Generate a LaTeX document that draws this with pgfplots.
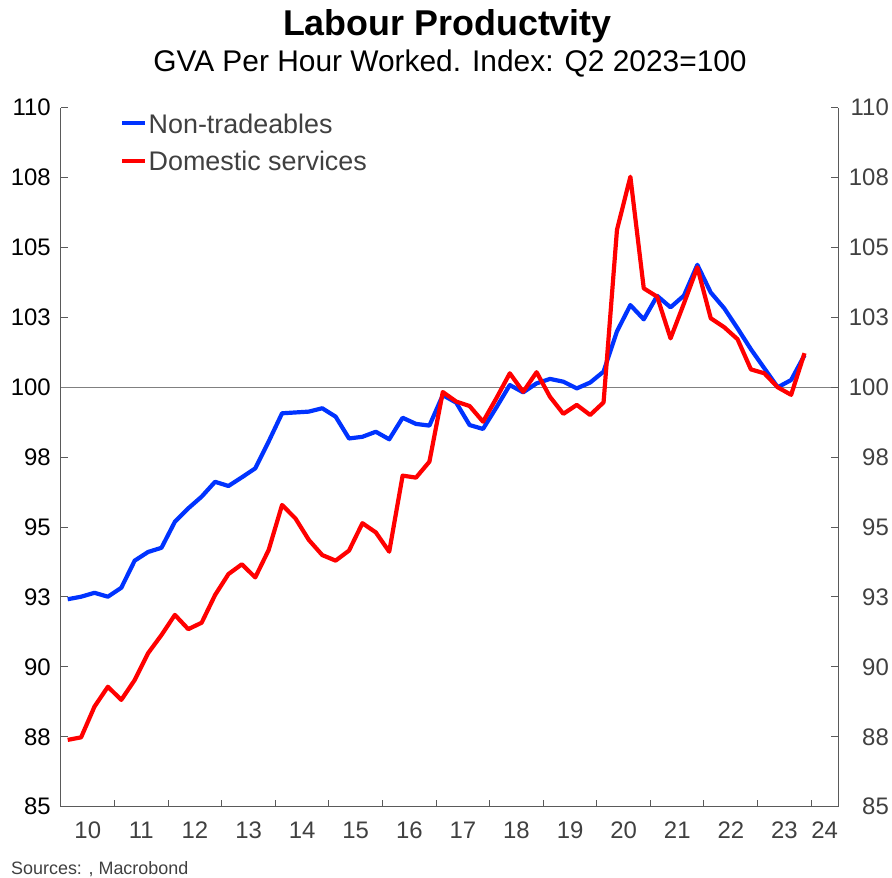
\documentclass[border=0pt]{standalone}
\usepackage{pgfplots}
\pgfplotsset{compat=1.18}
\usepackage{pgfplotstable}
\usepackage{fontspec}
\setmainfont{Liberation Sans}
\definecolor{nblue}{RGB}{0,51,255}
\definecolor{dred}{RGB}{255,0,0}
\definecolor{txtgray}{RGB}{64,64,64}
\definecolor{axgray}{RGB}{90,90,90}

\pgfplotstableread{
x y
2010.125 92.42
2010.375 92.51
2010.625 92.65
2010.875 92.51
2011.125 92.83
2011.375 93.80
2011.625 94.11
2011.875 94.26
2012.125 95.19
2012.375 95.67
2012.625 96.09
2012.875 96.62
2013.125 96.47
2013.375 96.78
2013.625 97.10
2013.875 98.06
2014.125 99.07
2014.375 99.10
2014.625 99.13
2014.875 99.25
2015.125 98.95
2015.375 98.17
2015.625 98.23
2015.875 98.41
2016.125 98.14
2016.375 98.91
2016.625 98.69
2016.875 98.63
2017.125 99.72
2017.375 99.45
2017.625 98.65
2017.875 98.51
2018.125 99.28
2018.375 100.08
2018.625 99.82
2018.875 100.14
2019.125 100.30
2019.375 100.20
2019.625 99.96
2019.875 100.17
2020.125 100.56
2020.375 102.00
2020.625 102.94
2020.875 102.43
2021.125 103.27
2021.375 102.86
2021.625 103.28
2021.875 104.38
2022.125 103.39
2022.375 102.83
2022.625 102.11
2022.875 101.36
2023.125 100.68
2023.375 100.00
2023.625 100.26
2023.875 101.15
}\nontrade

\pgfplotstableread{
x y
2010.125 87.39
2010.375 87.48
2010.625 88.58
2010.875 89.29
2011.125 88.82
2011.375 89.53
2011.625 90.49
2011.875 91.14
2012.125 91.86
2012.375 91.35
2012.625 91.58
2012.875 92.57
2013.125 93.32
2013.375 93.67
2013.625 93.20
2013.875 94.18
2014.125 95.79
2014.375 95.31
2014.625 94.54
2014.875 94.00
2015.125 93.80
2015.375 94.16
2015.625 95.14
2015.875 94.81
2016.125 94.12
2016.375 96.84
2016.625 96.77
2016.875 97.34
2017.125 99.83
2017.375 99.49
2017.625 99.33
2017.875 98.77
2018.125 99.61
2018.375 100.50
2018.625 99.84
2018.875 100.54
2019.125 99.66
2019.375 99.05
2019.625 99.37
2019.875 99.01
2020.125 99.46
2020.375 105.63
2020.625 107.53
2020.875 103.54
2021.125 103.24
2021.375 101.75
2021.625 103.00
2021.875 104.29
2022.125 102.47
2022.375 102.15
2022.625 101.72
2022.875 100.64
2023.125 100.50
2023.375 100.00
2023.625 99.73
2023.875 101.22
}\domserv

\begin{document}
\begin{tikzpicture}[x=1bp,y=1bp]
\path[use as bounding box] (-61,-71.3) rectangle (831,806.7);
\begin{axis}[
  at={(0,0)}, anchor=south west,
  scale only axis, width=777bp, height=699bp,
  xmin=2010, xmax=2024.5, ymin=85, ymax=110,
  axis x line*=bottom, axis y line*=left,
  axis line style={-, draw=axgray, line width=1bp},
  tick align=inside, major tick length=7bp,
  tick style={draw=axgray, line width=1bp},
  xtick={2011,2012,...,2024}, xticklabels={},
  extra x ticks={2010.5,2011.5,2012.5,2013.5,2014.5,2015.5,2016.5,2017.5,2018.5,2019.5,2020.5,2021.5,2022.5,2023.5,2024.25},
  extra x tick labels={10,11,12,13,14,15,16,17,18,19,20,21,22,23,24},
  extra x tick style={major tick length=0pt, tick style={draw=none},
    xticklabel style={anchor=north, inner sep=0pt, yshift=-15bp, text=txtgray, font=\fontsize{24}{28}\selectfont}},
  ytick={85,87.5,...,110},
  yticklabels={85,88,90,93,95,98,100,103,105,108,110},
  yticklabel style={anchor=east, inner sep=0pt, xshift=-10bp, text=black, font=\fontsize{24}{28}\selectfont},
  /pgf/number format/assume math mode=true,
  legend cell align=left,
  legend style={at={(rel axis cs:0.0759,0.9915)}, anchor=north west, draw=none, fill=none,
    inner sep=0pt, row sep=18.4bp, column sep=1.5bp,
    font=\fontsize{27}{30}\selectfont, text=txtgray,
    nodes={inner sep=0pt, text height=19.3bp, text depth=0pt}},
  legend image code/.code={\draw[#1, line width=4bp] (0bp,0bp) -- (23bp,0bp);},
  clip=false,
]
\addplot[gray, line width=1.2bp, forget plot] coordinates {(2010,100) (2024.5,100)};
\addplot[nblue, line width=4.2bp, line join=round] table[x=x,y=y] {\nontrade};
\addlegendentry{Non-tradeables}
\addplot[dred, line width=4.2bp, line join=round] table[x=x,y=y] {\domserv};
\addlegendentry{Domestic services}
\end{axis}
\begin{axis}[
  at={(0,0)}, anchor=south west,
  scale only axis, width=777bp, height=699bp,
  xmin=2010, xmax=2024.5, ymin=85, ymax=110,
  axis x line=none, axis y line*=right,
  axis line style={-, draw=axgray, line width=1bp},
  tick align=inside, major tick length=7bp,
  tick style={draw=axgray, line width=1bp},
  ytick={85,87.5,...,110},
  yticklabels={85,88,90,93,95,98,100,103,105,108,110},
  yticklabel style={anchor=east, inner sep=0pt, xshift=51bp, text=txtgray, font=\fontsize{24}{28}\selectfont},
  /pgf/number format/assume math mode=true,
]
\addplot[draw=none, forget plot] coordinates {(2010,100)};
\end{axis}
\node[anchor=base, inner sep=0pt, font=\bfseries\fontsize{36}{40}\selectfont] at (386.4,770.7) {Labour Productvity};
\node[anchor=base, inner sep=0pt, font=\fontsize{30}{34}\selectfont] at (389,734.7) {GVA Per Hour Worked. Index: Q2 2023=100};
\node[anchor=base west, inner sep=0pt, text=txtgray, font=\fontsize{18}{20}\selectfont] at (-50,-67.3) {Sources: , Macrobond};
\end{tikzpicture}
\end{document}
